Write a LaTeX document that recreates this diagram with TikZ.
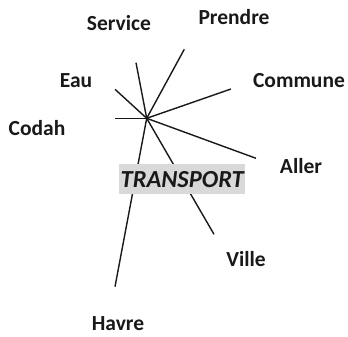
\documentclass[tikz,border=0pt]{standalone}
\usepackage{fontspec}
\setmainfont{Carlito}
\begin{document}
\begin{tikzpicture}[x=1pt,y=-1pt,
  lbl/.style={font=\fontsize{21.5}{24}\selectfont\bfseries, text=black!90, inner sep=0pt},
  spoke/.style={line width=1.4pt, draw=black!90},
  hub/.style={fill=black!15, inner sep=0pt, minimum width=125.7pt, minimum height=30.3pt,
    font=\fontsize{24.5}{26}\selectfont\bfseries\itshape, text=black!90}]
\useasboundingbox (0,0) rectangle (348,337);
\coordinate (c) at (146.7,118.3);
\coordinate (eService) at (136,62.7);
\coordinate (ePrendre) at (184.3,49.3);
\coordinate (eEau) at (115,89.3);
\coordinate (eCommune) at (231,89);
\coordinate (eCodah) at (115,118.3);
\coordinate (eAller) at (256,158.3);
\coordinate (eHavre) at (115,286.7);
\coordinate (eVille) at (214,234.3);
\foreach \e in {eService,ePrendre,eEau,eCommune,eCodah,eAller,eHavre,eVille}
  \draw[spoke] (c) -- (\e);
\node[hub] (t) at (182.2,179.2) {TRANSPORT};
\node[lbl] (service) at (119,23) {Service};
\node[lbl] (prendre) at (234,17) {Prendre};
\node[lbl] (eau) at (76,81) {Eau};
\node[lbl] (commune) at (299,81) {Commune};
\node[lbl] (codah) at (37,128) {Codah};
\node[lbl] (aller) at (301,166) {Aller};
\node[lbl] (ville) at (246,259) {Ville};
\node[lbl] (havre) at (118,324) {Havre};
\end{tikzpicture}
\end{document}
